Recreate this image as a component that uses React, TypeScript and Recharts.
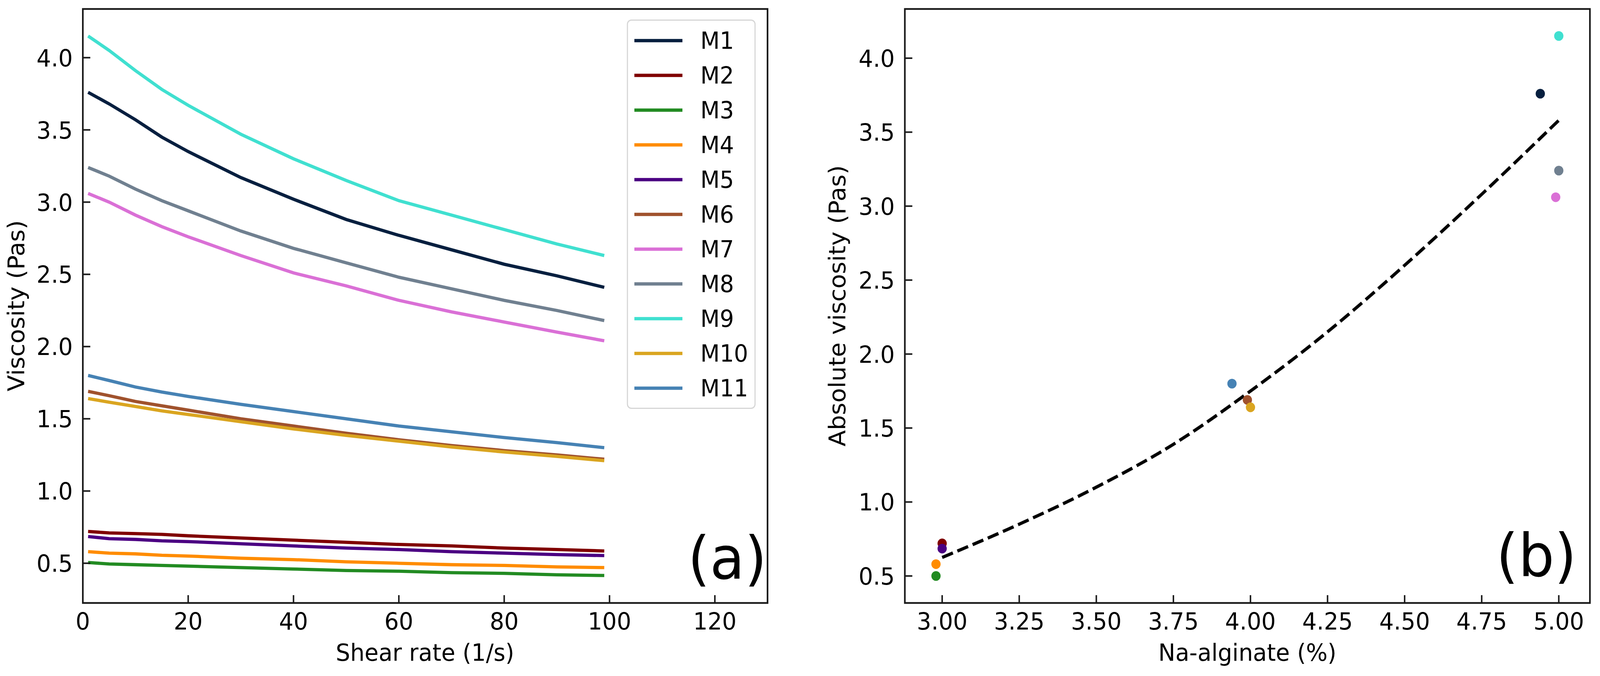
import React from 'react';
import {
  LineChart, Line, XAxis, YAxis, Legend, ReferenceArea,
  ComposedChart, Scatter, Cell,
} from 'recharts';

// ---------- Data: panel (a) ----------
const SHEAR = [1, 5, 10, 15, 20, 30, 40, 50, 60, 70, 80, 90, 99];
const M1 = [3.76, 3.68, 3.57, 3.45, 3.35, 3.17, 3.02, 2.88, 2.77, 2.67, 2.57, 2.49, 2.41];
const M2 = [0.72, 0.71, 0.705, 0.70, 0.69, 0.675, 0.66, 0.645, 0.63, 0.62, 0.605, 0.595, 0.585];
const M3 = [0.505, 0.495, 0.49, 0.485, 0.48, 0.47, 0.46, 0.45, 0.445, 0.435, 0.43, 0.42, 0.415];
const M4 = [0.58, 0.57, 0.565, 0.555, 0.55, 0.535, 0.525, 0.51, 0.50, 0.49, 0.485, 0.475, 0.47];
const M5 = [0.685, 0.67, 0.665, 0.655, 0.65, 0.635, 0.62, 0.605, 0.595, 0.58, 0.57, 0.56, 0.553];
const M6 = [1.69, 1.66, 1.62, 1.59, 1.56, 1.50, 1.45, 1.40, 1.355, 1.315, 1.28, 1.25, 1.22];
const M7 = [3.06, 3.00, 2.91, 2.83, 2.76, 2.63, 2.51, 2.42, 2.32, 2.24, 2.17, 2.10, 2.04];
const M8 = [3.24, 3.18, 3.09, 3.01, 2.94, 2.80, 2.68, 2.58, 2.48, 2.40, 2.32, 2.25, 2.18];
const M9 = [4.15, 4.05, 3.91, 3.78, 3.67, 3.47, 3.30, 3.15, 3.01, 2.91, 2.81, 2.71, 2.63];
const M10 = [1.64, 1.615, 1.585, 1.555, 1.53, 1.48, 1.43, 1.385, 1.345, 1.305, 1.27, 1.24, 1.21];
const M11 = [1.80, 1.765, 1.72, 1.685, 1.655, 1.60, 1.55, 1.50, 1.45, 1.41, 1.37, 1.335, 1.30];

const NAMES = ['M1', 'M2', 'M3', 'M4', 'M5', 'M6', 'M7', 'M8', 'M9', 'M10', 'M11'];
const SERIES = [M1, M2, M3, M4, M5, M6, M7, M8, M9, M10, M11];
const COLORS = ['#061f3f', '#800000', '#228b22', '#ff8c00', '#4b0082', '#a0522d',
  '#da70d6', '#708090', '#40e0d0', '#daa520', '#4682b4'];

const A_XTICKS = [0, 20, 40, 60, 80, 100, 120];
const A_YTICKS = [0.5, 1.0, 1.5, 2.0, 2.5, 3.0, 3.5, 4.0];
const A_XDOMAIN = [0, 130];
const A_YDOMAIN = [0.225, 4.337];

// ---------- Data: panel (b) ----------
const ALG_X = [4.94, 3.00, 2.98, 2.98, 3.00, 3.99, 4.99, 5.00, 5.00, 4.00, 3.94];
const ALG_Y = [3.76, 0.72, 0.50, 0.58, 0.685, 1.69, 3.06, 3.24, 4.15, 1.64, 1.80];
const FIT_X = [3.0, 3.25, 3.5, 3.75, 4.0, 4.25, 4.5, 4.75, 5.0];
const FIT_Y = [0.625, 0.85, 1.10, 1.39, 1.75, 2.15, 2.60, 3.08, 3.58];

const B_XTICKS = [3.0, 3.25, 3.5, 3.75, 4.0, 4.25, 4.5, 4.75, 5.0];
const B_YTICKS = [0.5, 1.0, 1.5, 2.0, 2.5, 3.0, 3.5, 4.0];
const B_XDOMAIN = [2.879, 5.101];
const B_YDOMAIN = [0.3175, 4.3325];

// ---------- derived tables ----------
const lineRows = SHEAR.map((x, i) => {
  const row: Record<string, number> = { x };
  NAMES.forEach((n, k) => { row[n] = SERIES[k][i]; });
  return row;
});
const scatterRows = ALG_X.map((x, i) => ({ x, y: ALG_Y[i] }));
const fitRows = FIT_X.map((x, i) => ({ x, y: FIT_Y[i] }));

const FONT = 'DejaVu Sans';
const INK = '#1a1a1a';
const TICK_FS = 61;
const W = 4288;
const H = 1731;

const makeYTick = (fmt: (v: number) => string) => (props: any) => {
  const { x, y, payload } = props;
  return (
    <g>
      <line x1={x} x2={x + 20} y1={y} y2={y} stroke={INK} strokeWidth={4} />
      <text x={x - 27} y={y + 22} textAnchor="end" fontSize={TICK_FS} fontFamily={FONT} fill="#000">
        {fmt(payload.value)}
      </text>
    </g>
  );
};
const makeXTick = (fmt: (v: number) => string) => (props: any) => {
  const { x, y, payload } = props;
  return (
    <g>
      <line x1={x} x2={x} y1={y} y2={y - 20} stroke={INK} strokeWidth={4} />
      <text x={x} y={y + 68} textAnchor="middle" fontSize={TICK_FS} fontFamily={FONT} fill="#000">
        {fmt(payload.value)}
      </text>
    </g>
  );
};

const renderLegend = (props: any) => {
  const payload = [...(props.payload || [])].sort(
    (a: any, b: any) => NAMES.indexOf(a.value) - NAMES.indexOf(b.value));
  return (
    <div style={{
      boxSizing: 'border-box', width: 345, height: 997, background: '#fff',
      border: '3px solid #d6d6d6', borderRadius: 12, padding: '6px 0',
      fontFamily: FONT,
    }}>
      {payload.map((p: any) => (
        <div key={p.value} style={{ height: 89, display: 'flex', alignItems: 'center' }}>
          <svg width={129} height={10} style={{ marginLeft: 17, display: 'block' }}>
            <line x1={0} x2={129} y1={5} y2={5} stroke={p.color} strokeWidth={8.3} />
          </svg>
          <span style={{ marginLeft: 48, fontSize: 60, lineHeight: 1, color: '#000' }}>{p.value}</span>
        </div>
      ))}
    </div>
  );
};

export default function App() {
  // The browser viewport can be narrower than the requested window; fit the figure to it.
  const vw = typeof window !== 'undefined' ? window.innerWidth : W;
  const vh = typeof window !== 'undefined' ? window.innerHeight : H;
  const sx = vw > 0 && vw < W ? vw / W : 1;
  const sy = vh > 0 && vh < H ? vh / H : 1;
  return (
    <div style={{ position: 'absolute', left: 0, top: 0, width: W * sx, height: H * sy, overflow: 'hidden', background: '#fff' }}>
      <div style={{ position: 'absolute', left: 0, top: 0, width: W, height: H, transform: `scale(${sx}, ${sy})`, transformOrigin: '0 0' }}>
        <div style={{ position: 'absolute', left: 0, top: 0 }}>
          <LineChart width={2144} height={1731} data={lineRows}
            margin={{ top: 23, right: 87, bottom: 0, left: 0 }}>
            <XAxis dataKey="x" type="number" domain={A_XDOMAIN} ticks={A_XTICKS} interval={0}
              allowDataOverflow height={187} tickSize={0} tickMargin={0} axisLine={false}
              tickLine={false} tick={makeXTick((v) => String(v))} />
            <YAxis type="number" domain={A_YDOMAIN} ticks={A_YTICKS} interval={0}
              allowDataOverflow width={222} tickSize={0} tickMargin={0} axisLine={false}
              tickLine={false} tick={makeYTick((v) => v.toFixed(1))} />
            {NAMES.map((n, k) => (
              <Line key={n} dataKey={n} name={n} type="linear" stroke={COLORS[k]} strokeWidth={8.3}
                dot={false} activeDot={false} isAnimationActive={false} />
            ))}
            <ReferenceArea x1={A_XDOMAIN[0]} x2={A_XDOMAIN[1]} y1={A_YDOMAIN[0]} y2={A_YDOMAIN[1]}
              fill="none" fillOpacity={0} stroke={INK} strokeWidth={4.4} ifOverflow="visible" />
            <Legend layout="vertical" align="center" verticalAlign="middle"
              wrapperStyle={{ left: 1680, top: 50, width: 345, height: 997 }} content={renderLegend} />
          </LineChart>
        </div>
        <div style={{ position: 'absolute', left: 2144, top: 0 }}>
          <ComposedChart width={2144} height={1731}
            margin={{ top: 23, right: 27, bottom: 0, left: 0 }}>
            <XAxis dataKey="x" type="number" domain={B_XDOMAIN} ticks={B_XTICKS} interval={0}
              allowDataOverflow height={187} tickSize={0} tickMargin={0} axisLine={false}
              tickLine={false} tick={makeXTick((v) => v.toFixed(2))} />
            <YAxis dataKey="y" type="number" domain={B_YDOMAIN} ticks={B_YTICKS} interval={0}
              allowDataOverflow width={281} tickSize={0} tickMargin={0} axisLine={false}
              tickLine={false} tick={makeYTick((v) => v.toFixed(1))} />
            <Line data={fitRows} dataKey="y" type="monotone" stroke="#000" strokeWidth={8.3}
              strokeDasharray="31 13" dot={false} activeDot={false} isAnimationActive={false} />
            <Scatter data={scatterRows} dataKey="y" isAnimationActive={false}
              shape={(p: any) => <circle cx={p.cx} cy={p.cy} r={12.4} fill={p.fill} />}>
              {scatterRows.map((_, i) => <Cell key={i} fill={COLORS[i]} />)}
            </Scatter>
            <ReferenceArea x1={B_XDOMAIN[0]} x2={B_XDOMAIN[1]} y1={B_YDOMAIN[0]} y2={B_YDOMAIN[1]}
              fill="none" fillOpacity={0} stroke={INK} strokeWidth={4.4} ifOverflow="visible" />
          </ComposedChart>
        </div>
        <svg width={W} height={H} style={{ position: 'absolute', left: 0, top: 0, pointerEvents: 'none' }}>
          <g fontFamily={FONT} fill="#000">
            <text x={1139} y={1692} fontSize={61} textAnchor="middle">Shear rate (1/s)</text>
            <text x={3343} y={1692} fontSize={61} textAnchor="middle">Na-alginate (%)</text>
            <text transform="translate(65,783) rotate(-90)" fontSize={61} textAnchor="middle">Viscosity (Pas)</text>
            <text transform="translate(2265,783) rotate(-90)" fontSize={61} textAnchor="middle">Absolute viscosity (Pas)</text>
            <text x={2055} y={1482} fontSize={152} textAnchor="end">(a)</text>
            <text x={4225} y={1475} fontSize={152} textAnchor="end">(b)</text>
          </g>
        </svg>
      </div>
    </div>
  );
}
